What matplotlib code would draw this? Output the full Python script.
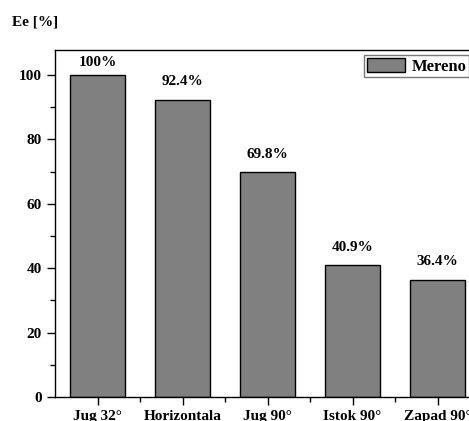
import numpy as np
import matplotlib
matplotlib.use('Agg')
import matplotlib.pyplot as plt
from matplotlib.ticker import MultipleLocator, FixedLocator

categories = ['Jug 32°', 'Horizontala', 'Jug 90°', 'Istok 90°', 'Zapad 90°']
values = [100, 92.4, 69.8, 40.9, 36.4]
value_labels = ['100%', '92.4%', '69.8%', '40.9%', '36.4%']
series_name = 'Mereno'

plt.rcParams['font.family'] = ['Liberation Serif', 'DejaVu Serif']
plt.rcParams['font.weight'] = 'bold'

fig = plt.figure(figsize=(4.69, 4.21), dpi=100)
# axes run past the right edge, like the cropped original
ax = fig.add_axes([55 / 469, 1 - 397 / 421, 425 / 469, 347 / 421])

x = np.arange(len(categories))
bars = ax.bar(x, values, width=0.65, color='#808080', edgecolor='black',
              linewidth=1.0, label=series_name)

# label offsets in points above bar tops (first one sits closer, as in the source)
offsets = [9, 13, 13, 13, 13]
for xi, v, lab, off in zip(x, values, value_labels, offsets):
    ax.annotate(lab, (xi, v), xytext=(0, off), textcoords='offset points',
                ha='center', va='center', fontsize=11, fontweight='bold')

ax.set_xlim(-0.5, len(categories) - 0.5)
ax.set_ylim(0, 107.8)
ax.set_xticks(x)
ax.set_xticklabels(categories, fontsize=11, fontweight='bold')
ax.xaxis.set_minor_locator(FixedLocator(x[:-1] + 0.5))
ax.yaxis.set_major_locator(MultipleLocator(20))
ax.yaxis.set_minor_locator(MultipleLocator(10))
ax.tick_params(axis='both', which='major', direction='out', length=6, width=1,
               labelsize=11)
ax.tick_params(axis='both', which='minor', direction='out', length=3.5, width=1)
for lab in ax.get_yticklabels():
    lab.set_fontweight('bold')
for s in ax.spines.values():
    s.set_linewidth(1.0)

fig.text(12 / 469, 1 - 22 / 421, 'Ee [%]', fontsize=11, fontweight='bold',
         ha='left', va='center')

leg = ax.legend(loc='upper left', bbox_to_anchor=(309 / 425, 342 / 347),
                frameon=True, fancybox=False, edgecolor='#555555', fontsize=12,
                handlelength=2.3, handleheight=1.0, handletextpad=0.4,
                borderpad=0.15, borderaxespad=0.0)
leg.get_frame().set_linewidth(1.0)

fig.savefig('out.png', dpi=100)
